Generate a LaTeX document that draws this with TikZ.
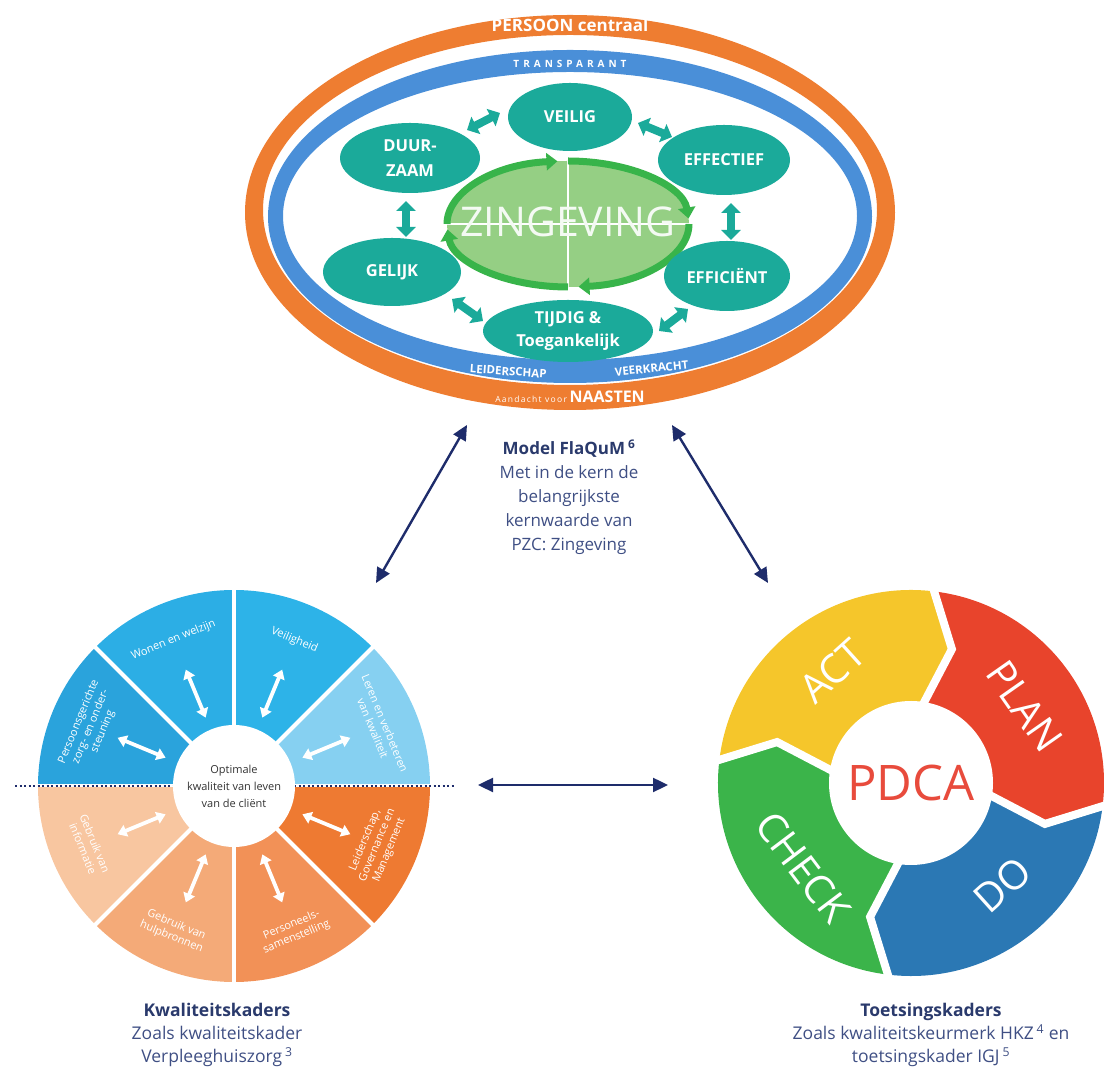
\documentclass[tikz,border=0pt]{standalone}
\usepackage{fontspec}
\setmainfont{Open Sans}
\usetikzlibrary{arrows.meta,shapes.geometric,calc}

\definecolor{ringorange}{HTML}{EE7D31}
\definecolor{ringblue}{HTML}{4A8FD8}
\definecolor{tealc}{HTML}{1BAA9A}
\definecolor{zinfill}{HTML}{95CF84}
\definecolor{zinline}{HTML}{38B44A}
\definecolor{navy}{HTML}{1E2C6B}
\definecolor{headnavy}{HTML}{2A3A6C}
\definecolor{bodynavy}{HTML}{3F4F84}
% wheel sectors
\definecolor{wlb}{HTML}{86D0F1}
\definecolor{wbA}{HTML}{2DB3E8}
\definecolor{wbB}{HTML}{2CAEE5}
\definecolor{wbC}{HTML}{2AA3DC}
\definecolor{woA}{HTML}{F8C6A0}
\definecolor{woB}{HTML}{F4AA78}
\definecolor{woC}{HTML}{F29157}
\definecolor{woD}{HTML}{EE7A32}
% PDCA
\definecolor{pdyel}{HTML}{F5C62B}
\definecolor{pdred}{HTML}{E8442C}
\definecolor{pdblue}{HTML}{2B78B4}
\definecolor{pdgreen}{HTML}{3BB44A}
\definecolor{pdtext}{HTML}{E84B3C}

\begin{document}
\begin{tikzpicture}[x=1pt,y=1pt,
  tealell/.style={ellipse, fill=tealc, text=white, inner sep=0pt,
    font=\fontsize{16.5}{25}\selectfont\bfseries, align=center},
  tealarr/.style={draw=tealc, line width=8pt,
    {Triangle[length=10pt,width=19pt]}-{Triangle[length=10pt,width=19pt]}},
  navyarr/.style={draw=navy, line width=2.4pt,
    {Triangle[length=15pt,width=14pt]}-{Triangle[length=15pt,width=14pt]}},
  whitearr/.style={draw=white, line width=3.8pt,
    {Triangle[length=9pt,width=12pt]}-{Triangle[length=9pt,width=12pt]}},
  seglbl/.style={text=white, font=\fontsize{11}{13}\selectfont, align=center, inner sep=0pt},
  pdcalbl/.style={text=white, font=\fontsize{40}{40}\selectfont, inner sep=0pt},
  caption/.style={align=center, text=bodynavy, font=\fontsize{17.5}{23}\selectfont},
  ringlbl/.style={text=white, inner sep=0pt, anchor=base},
  zinarc/.style={draw=zinline, line width=7pt, -{Triangle[length=11pt,width=17pt]}},
]
\useasboundingbox (0,0) rectangle (1104,1071);

% ---------- FlaQuM model ----------
\fill[ringorange, even odd rule]
  (570,858.5) ellipse[x radius=325pt, y radius=197.5pt]
  (570,861) ellipse[x radius=307pt, y radius=175pt];
\fill[ringblue, even odd rule]
  (570,854.5) ellipse[x radius=302pt, y radius=166.5pt]
  (570,855) ellipse[x radius=287pt, y radius=144pt];

\node[ringlbl, font=\fontsize{17}{17}\selectfont\bfseries] (persoon) at (570,1039) {PERSOON centraal};
\node[ringlbl, font=\fontsize{10}{10}\selectfont\bfseries\addfontfeatures{LetterSpace=40}] (transp) at (570,1003.5) {TRANSPARANT};
\node[ringlbl, rotate=-4, font=\fontsize{11.5}{11.5}\selectfont\bfseries] (leider) at (508,695.5) {LEIDERSCHAP};
\node[ringlbl, rotate=6, font=\fontsize{11.5}{11.5}\selectfont\bfseries] (veerk) at (652,698.5) {VEERKRACHT};
\node[ringlbl] (naasten) at (570,668)
  {{\fontsize{8.5}{8.5}\selectfont\addfontfeatures{LetterSpace=15}Aandacht voor} {\fontsize{16}{16}\selectfont\bfseries NAASTEN}};

% central ellipse with its cycle of arcs
\fill[zinfill] (568,847) ellipse[x radius=121pt, y radius=63pt];
\draw[white, line width=1.5pt] (568,784) -- (568,910);
\draw[white, line width=1.5pt] (447,847) -- (689,847);
\draw[zinarc] (447,847) arc[start angle=180, end angle=95, x radius=121pt, y radius=63pt];
\draw[zinarc] (568,910) arc[start angle=90, end angle=5, x radius=121pt, y radius=63pt];
\draw[zinarc] (689,847) arc[start angle=0, end angle=-85, x radius=121pt, y radius=63pt];
\draw[zinarc] (568,784) arc[start angle=-90, end angle=-175, x radius=121pt, y radius=63pt];
\node[text=white!90!zinfill, font=\fontsize{41}{41}\selectfont] (zin) at (568,849) {ZINGEVING};

% quality dimensions
\node[tealell, minimum width=124pt, minimum height=68pt] (veilig) at (570,954) {VEILIG};
\node[tealell, minimum width=140pt, minimum height=70pt] (duur) at (410,913) {DUUR-\\ZAAM};
\node[tealell, minimum width=132pt, minimum height=70pt] (effect) at (724,911) {EFFECTIEF};
\node[tealell, minimum width=138pt, minimum height=68pt] (gelijk) at (392,799) {GELIJK};
\node[tealell, minimum width=126pt, minimum height=70pt] (effic) at (727,795) {EFFICIËNT};
\node[tealell, minimum width=170pt, minimum height=62pt, font=\fontsize{16.5}{23}\selectfont\bfseries] (tijdig) at (568,740) {TIJDIG \&\\Toegankelijk};

\coordinate (a1s) at (467,941); \coordinate (a1e) at (500,958);
\coordinate (a2s) at (638,948); \coordinate (a2e) at (672,934);
\coordinate (a3s) at (406,870); \coordinate (a3e) at (406,834);
\coordinate (a4s) at (731,868); \coordinate (a4e) at (731,831);
\coordinate (a5s) at (452,772); \coordinate (a5e) at (483,750);
\coordinate (a6s) at (659,740); \coordinate (a6e) at (688,762);
\draw[tealarr] (a1s) -- (a1e);
\draw[tealarr] (a2s) -- (a2e);
\draw[tealarr] (a3s) -- (a3e);
\draw[tealarr] (a4s) -- (a4e);
\draw[tealarr] (a5s) -- (a5e);
\draw[tealarr] (a6s) -- (a6e);

% ---------- links between the three frameworks ----------
\coordinate (topL) at (467,646);
\coordinate (wheelT) at (376,488);
\coordinate (topR) at (672,646);
\coordinate (pdcaT) at (768,488);
\coordinate (wheelR) at (478,286);
\coordinate (pdcaL) at (668,286);
\draw[navyarr] (topL) -- (wheelT);
\draw[navyarr] (topR) -- (pdcaT);
\draw[navyarr] (wheelR) -- (pdcaL);

\node[caption, font=\fontsize{17}{24}\selectfont] (flaqum) at (569,574)
  {{\bfseries\color{headnavy}Model FlaQuM\,\textsuperscript{6}}\\Met in de kern de\\belangrijkste\\kernwaarde van\\PZC: Zingeving};

% ---------- quality framework wheel ----------
\begin{scope}[shift={(234,285)}]
  \foreach \a/\c in {0/wlb, 45/wbA, 90/wbB, 135/wbC, 180/woA, 225/woB, 270/woC, 315/woD}
    \fill[\c] (0,0) -- (\a:196pt) arc[start angle=\a, end angle=\a+45, radius=196pt] -- cycle;
  \foreach \a in {45,90,135,225,270,315}
    \draw[white, line width=4pt] (0,0) -- (\a:198pt);
  \foreach \a in {22.5,67.5,112.5,157.5,202.5,247.5,292.5,337.5}
    \draw[whitearr] (\a:74pt) -- (\a:126pt);
  \node[seglbl, rotate=-67.5] (s1) at (22.5:157pt) {Leren en verbeteren\\van kwaliteit};
  \node[seglbl, rotate=-22.5] (s2) at (67.5:158pt) {Veiligheid};
  \node[seglbl, rotate=22.5] (s3) at (112.5:158pt) {Wonen en welzijn};
  \node[seglbl, rotate=67.5] (s4) at (157.5:155pt) {Persoonsgerichte\\zorg- en onder-\\steuning};
  \node[seglbl, rotate=-67.5] (s5) at (202.5:157pt) {Gebruik van\\informatie};
  \node[seglbl, rotate=-22.5] (s6) at (247.5:157pt) {Gebruik van\\hulpbronnen};
  \node[seglbl, rotate=22.5] (s7) at (292.5:157pt) {Personeels-\\samenstelling};
  \node[seglbl, rotate=67.5] (s8) at (337.5:155pt) {Leiderschap,\\Governance en\\Management};
\end{scope}
\draw[white, line width=3pt] (38,285) -- (430,285);
\draw[navy, line width=2pt, dash pattern=on 2pt off 2.5pt] (15,285) -- (455,285);
\node[circle, fill=white, minimum size=122pt, inner sep=0pt, align=center,
  text=black!80, font=\fontsize{11}{17}\selectfont] (core) at (234,285)
  {Optimale\\kwaliteit van leven\\van de cliënt};

\node[caption] (kwal) at (217,36)
  {{\bfseries\color{headnavy}Kwaliteitskaders}\\Zoals kwaliteitskader\\Verpleeghuiszorg\,\textsuperscript{3}};

% ---------- PDCA cycle ----------
\begin{scope}[shift={(911,288)}]
  \fill[pdyel] (174:193pt) arc[start angle=174, end angle=84, radius=193pt]
    -- (73:140pt) -- (84:78pt) arc[start angle=84, end angle=174, radius=78pt]
    -- (163:140pt) -- cycle;
  \fill[pdred] (84:193pt) arc[start angle=84, end angle=-6, radius=193pt]
    -- (-17:140pt) -- (-6:78pt) arc[start angle=-6, end angle=84, radius=78pt]
    -- (73:140pt) -- cycle;
  \fill[pdblue] (-6:193pt) arc[start angle=-6, end angle=-96, radius=193pt]
    -- (-107:140pt) -- (-96:78pt) arc[start angle=-96, end angle=-6, radius=78pt]
    -- (-17:140pt) -- cycle;
  \fill[pdgreen] (-96:193pt) arc[start angle=-96, end angle=-186, radius=193pt]
    -- (163:140pt) -- (174:78pt) arc[start angle=174, end angle=264, radius=78pt]
    -- (-107:140pt) -- cycle;
  \foreach \b in {84,-6,-96,174}
    \draw[white, line width=8pt, line join=miter] (\b:70pt) -- (\b-11:140pt) -- (\b:200pt);
  \fill[white] (0,0) circle[radius=82pt];
  \node[pdcalbl, rotate=42] (act) at (125:137pt) {ACT};
  \node[pdcalbl, rotate=-55] (plan) at (34:137pt) {PLAN};
  \node[pdcalbl, rotate=42] (do) at (-48:137pt) {DO};
  \node[pdcalbl, rotate=-53] (check) at (218:137pt) {CHECK};
  \node[text=pdtext, font=\fontsize{49}{49}\selectfont, inner sep=0pt] (pdca) at (0,0) {PDCA};
\end{scope}

\node[caption] (toets) at (931,36)
  {{\bfseries\color{headnavy}Toetsingskaders}\\Zoals kwaliteitskeurmerk HKZ\,\textsuperscript{4} en\\toetsingskader IGJ\,\textsuperscript{5}};

\end{tikzpicture}
\end{document}
